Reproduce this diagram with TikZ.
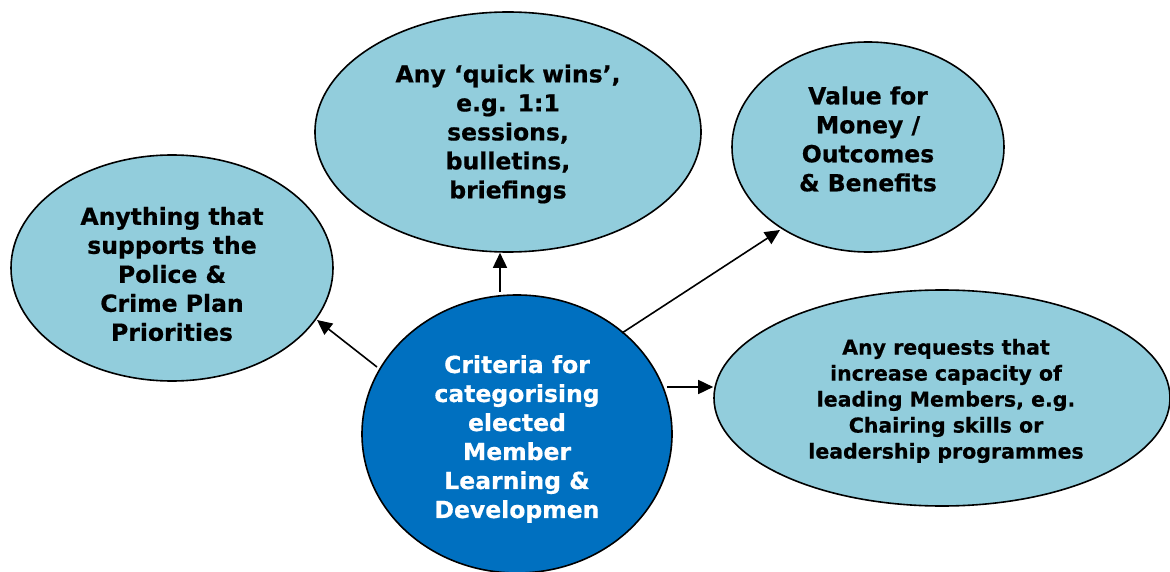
\documentclass[tikz,border=0pt]{standalone}
\usepackage{fontspec}
\setmainfont{DejaVu Sans}[BoldFeatures={FakeBold=0.6}]
\usetikzlibrary{shapes.geometric,arrows.meta}
\definecolor{paleaqua}{HTML}{92CDDC}
\definecolor{deepblue}{HTML}{0070C0}
\begin{document}
\begin{tikzpicture}[x=1pt,y=-1pt,
  bubble/.style={ellipse,draw=black,line width=1.6pt,fill=paleaqua,inner sep=0pt},
  hub/.style={bubble,fill=deepblue},
  caption/.style={align=center,font=\bfseries\fontsize{23.5}{29}\selectfont,text=black,inner sep=0pt},
  smallcaption/.style={caption,font=\bfseries\fontsize{20.5}{26}\selectfont},
  arrow/.style={line width=1.6pt,-{Triangle[length=15pt,width=14pt]}}]
\useasboundingbox (0,0) rectangle (1170,572);

% outer bubbles
\node[bubble,minimum width=322pt,minimum height=226pt] (police) at (172,268) {};
\node[bubble,minimum width=386pt,minimum height=240pt] (quick) at (508,132) {};
\node[bubble,minimum width=272pt,minimum height=210pt] (value) at (868,147) {};
\node[bubble,minimum width=456pt,minimum height=216pt] (request) at (942,398) {};

% central bubble
\node[hub,minimum width=310pt,minimum height=278pt] (crit) at (517,434) {};

% captions
\node[caption] (policetext) at (172,274) {Anything that\\supports the\\Police \&\\Crime Plan\\Priorities};
\node[caption] (quicktext) at (508,134) {Any ‘quick wins’,\\e.g. 1:1\\sessions,\\bulletins,\\briefings};
\node[caption] (valuetext) at (868,139) {Value for\\Money /\\Outcomes\\\& Benefits};
\node[smallcaption] (requesttext) at (946,401) {Any requests that\\increase capacity of\\leading Members, e.g.\\Chairing skills or\\leadership programmes};
\node[caption,text=white] (crittext) at (517,439) {Criteria for\\categorising\\elected\\Member\\Learning \&\\Developmen};

% connector end points
\coordinate (upstart) at (500,292);
\coordinate (leftstart) at (377,367);
\coordinate (leftend) at (317,320);
\coordinate (diagstart) at (622,333);
\coordinate (diagend) at (780,230);
\coordinate (rightstart) at (667,387);

% connectors
\draw[arrow] (upstart) -- (upstart |- quick.south);
\draw[arrow] (leftstart) -- (leftend);
\draw[arrow] (diagstart) -- (diagend);
\draw[arrow] (rightstart) -- (rightstart -| request.west);
\end{tikzpicture}
\end{document}
